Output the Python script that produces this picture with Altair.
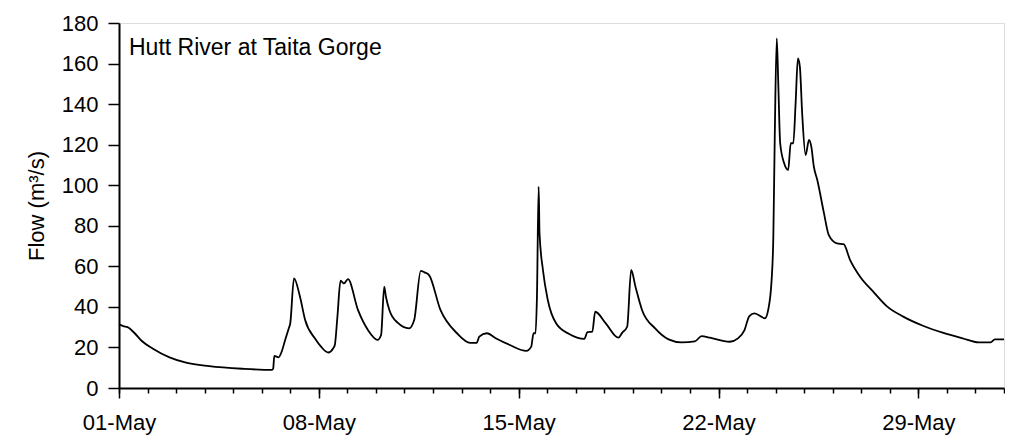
import altair as alt
import pandas as pd

# Days since 01-May 00:00 and flow (m3/s)
day = [0.0, 0.15, 0.3, 0.55, 0.79, 1.19, 1.77, 2.35, 3.16, 4.32, 5.36, 5.40, 5.44, 5.59, 5.70,
       5.82, 5.94, 6.0, 6.13, 6.34, 6.52, 6.86, 7.1, 7.33, 7.5, 7.56, 7.65, 7.76, 7.88, 8.02,
       8.37, 8.72, 9.06, 9.18, 9.29, 9.35, 9.47, 9.76, 10.16, 10.34, 10.57, 10.7, 10.86, 11.26,
       11.84, 12.3, 12.53, 12.62, 12.88, 13.23, 13.69, 14.27, 14.44, 14.52, 14.59, 14.64, 14.70,
       14.73, 14.85, 15.02, 15.31, 15.77, 16.3, 16.41, 16.58, 16.68, 17.05, 17.49, 17.63, 17.8,
       17.94, 18.09, 18.32, 18.78, 19.25, 19.71, 20.17, 20.41, 20.7, 21.39, 21.68, 21.91, 22.08,
       22.26, 22.63, 22.74, 22.86, 22.92, 22.97, 23.04, 23.09, 23.16, 23.30, 23.44, 23.53, 23.62,
       23.70, 23.78, 23.85, 23.93, 24.05, 24.17, 24.25, 24.34, 24.46, 24.69, 24.86, 25.15, 25.38,
       25.61, 25.96, 26.42, 26.89, 27.47, 28.16, 28.85, 29.55, 30.12, 30.53, 30.68, 31.0]
flow = [31.5, 30.5, 30.0, 27.0, 23.3, 19.4, 15.1, 12.5, 10.8, 9.5, 8.9, 9.5, 15.8, 15.1, 18.0,
        23.7, 29.1, 32.0, 54.1, 45.0, 33.5, 24.5, 20.0, 17.5, 19.5, 21.2, 35.0, 52.9, 51.6, 53.7,
        38.5, 28.6, 23.7, 26.1, 50.0, 45.0, 38.5, 32.2, 29.4, 33.5, 57.8, 57.0, 55.7, 38.5,
        27.0, 22.3, 22.3, 25.3, 27.0, 24.3, 21.2, 18.3, 20.4, 27.0, 27.0, 45.0, 99.3,
        76.3, 58.2, 43.4, 31.9, 26.6, 24.2, 27.5, 27.8, 37.6, 31.9, 24.8, 27.3, 30.2,
        58.2, 50.0, 38.5, 29.4, 24.0, 22.5, 23.0, 25.6, 24.8, 22.8, 24.5, 28.6, 35.5,
        36.8, 34.4, 38.5, 53.3, 74.6, 123.9, 172.4, 151.9, 120.7, 110.8, 107.5, 120.7, 120.7,
        140.3, 162.5, 158.4, 135.5, 114.9, 122.3, 119.0, 109.1, 102.6, 86.5, 75.5, 71.3, 70.9,
        63.1, 54.9, 47.5, 40.4, 35.2, 30.7, 27.3, 24.5, 22.5, 22.5, 24.0, 24.0]

y_ticks = [0, 20, 40, 60, 80, 100, 120, 140, 160, 180]
major_days = [1, 8, 15, 22, 29]
label_text = "Hutt River at Taita Gorge"
y_title = "Flow (m³/s)"

base = pd.Timestamp("2005-05-01T00:00:00")
df = pd.DataFrame({
    "time": [(base + pd.Timedelta(days=d)).strftime("%Y-%m-%dT%H:%M:%S") for d in day],
    "flow": flow,
})

major_ticks = [alt.DateTime(year=2005, month=5, date=d) for d in major_days]
minor_ticks = [alt.DateTime(year=2005, month=5, date=d) for d in range(1, 32)] + \
              [alt.DateTime(year=2005, month=6, date=1)]

FONT = "Liberation Sans"
xscale = alt.Scale(domain=[alt.DateTime(year=2005, month=5, date=1),
                           alt.DateTime(year=2005, month=6, date=1)])
yscale = alt.Scale(domain=[0, 180], nice=False)

yaxis = alt.Axis(
    title=y_title, values=y_ticks, grid=False,
    labelFontSize=22, labelFont=FONT, labelColor="black", labelFlush=False,
    labelPadding=10, tickSize=11, tickColor="black", tickWidth=1.5,
    domainColor="black", domainWidth=2,
    titleFontSize=22, titleFont=FONT, titleFontWeight="normal",
    titleColor="black", titlePadding=13,
)

line = alt.Chart(df).mark_line(color="black", strokeWidth=1.8, interpolate="monotone").encode(
    x=alt.X("time:T", scale=xscale,
            axis=alt.Axis(
                title=None, values=major_ticks, grid=False, format="%d-%b",
                orient="bottom", labelOverlap=False, labelFlush=False,
                labelFontSize=22, labelFont=FONT, labelColor="black",
                labelPadding=14, tickSize=10,
                tickColor="black", tickWidth=1.5,
                domainColor="black", domainWidth=2,
            )),
    y=alt.Y("flow:Q", scale=yscale, axis=yaxis),
)

minor = alt.Chart(df).mark_line(strokeOpacity=0).encode(
    x=alt.X("time:T", scale=xscale,
            axis=alt.Axis(title=None, values=minor_ticks, grid=False, labels=False,
                          orient="bottom", domain=False, tickSize=5,
                          tickColor="black", tickWidth=1.5)),
    y=alt.Y("flow:Q", scale=yscale, axis=yaxis),
)

txt = alt.Chart(pd.DataFrame({"t": [label_text]})).mark_text(
    align="left", baseline="alphabetic", fontSize=23, font=FONT, color="black"
).encode(x=alt.value(10), y=alt.value(32), text="t:N")

chart = alt.layer(line, minor, txt).resolve_axis(x="independent").properties(
    width=885, height=365,
    padding={"left": 111, "top": 15, "right": 1, "bottom": 47},
    autosize=alt.AutoSizeParams(type="none"),
).configure_view(stroke="black", strokeWidth=2).configure(background="white")

chart.save("out.html", embed_options={"renderer": "svg", "actions": False})
